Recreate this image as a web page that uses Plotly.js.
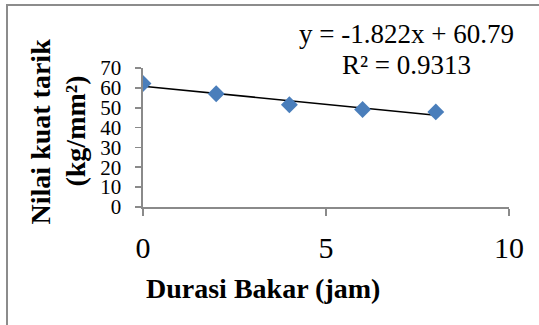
<!DOCTYPE html>
<html>
<head>
<meta charset="utf-8">
<script src="https://cdn.plot.ly/plotly-3.0.1.min.js"></script>
<style>
html,body{margin:0;padding:0;background:#fff;}
#wrap{position:relative;width:539px;height:325px;overflow:hidden;}
#chart{position:absolute;left:0;top:0;width:539px;height:325px;}
#frame{position:absolute;left:6px;top:4px;width:540px;height:330px;border-top:2px solid #8c8c8c;border-left:2px solid #8c8c8c;pointer-events:none;}
</style>
</head>
<body>
<div id="wrap"><div id="chart"></div><div id="frame"></div></div>
<script>
// Data
const durasi = [0, 2, 4, 6, 8];
const kuatTarik = [62.2, 57.0, 51.5, 49.1, 47.9];
const equationText = "y = -1.822x + 60.79";
const r2Text = "R² = 0.9313";
const xTitle = "Durasi Bakar (jam)";
const yTitleLine1 = "Nilai kuat tarik";
const yTitleLine2 = "(kg/mm²)";
const xTicks = [0, 5, 10];
const yTicks = [0, 10, 20, 30, 40, 50, 60, 70];

// Least-squares linear trendline computed from the data
const n = durasi.length;
const mx = durasi.reduce((a,b)=>a+b,0)/n;
const my = kuatTarik.reduce((a,b)=>a+b,0)/n;
let sxy = 0, sxx = 0;
for (let i=0;i<n;i++){ sxy += (durasi[i]-mx)*(kuatTarik[i]-my); sxx += (durasi[i]-mx)**2; }
const slope = sxy/sxx, intercept = my - slope*mx;
const trendX = [Math.min(...durasi), Math.max(...durasi)];
const trendY = trendX.map(x => intercept + slope*x);

const font = "Liberation Serif";
const axisGray = '#8a8a8a';

const traces = [
  {x: trendX, y: trendY, mode: 'lines', line: {color: '#000000', width: 1.6}, hoverinfo: 'skip'},
  {x: durasi, y: kuatTarik, mode: 'markers', marker: {symbol: 'diamond', size: 13, color: '#4A7EBB'}}
];

const layout = {
  width: 539, height: 325,
  margin: {l: 143, r: 30, t: 68, b: 118},
  paper_bgcolor: '#ffffff', plot_bgcolor: '#ffffff',
  showlegend: false,
  font: {family: font, color: '#000000'},
  xaxis: {
    range: [0, 10], tickvals: xTicks, ticktext: xTicks.map(String),
    showgrid: false, zeroline: false, showline: true, linecolor: axisGray, linewidth: 1.6,
    ticks: 'outside', ticklen: 7, tickcolor: axisGray, tickwidth: 1.6,
    tickfont: {family: font, size: 30, color: '#000'}, ticklabelstandoff: 6
  },
  yaxis: {
    range: [0, 70], tickvals: yTicks, ticktext: yTicks.map(String),
    showgrid: false, zeroline: false, showline: true, linecolor: axisGray, linewidth: 1.6,
    ticks: 'outside', ticklen: 6, tickcolor: axisGray, tickwidth: 1.6,
    tickfont: {family: font, size: 21, color: '#000'}, ticklabelstandoff: 10
  },
  annotations: [
    {xref: 'paper', yref: 'paper', x: 0.72, y: 1.248, xanchor: 'center', yanchor: 'middle',
     text: equationText, showarrow: false, font: {family: font, size: 27, color: '#000'}},
    {xref: 'paper', yref: 'paper', x: 0.72, y: 1.018, xanchor: 'center', yanchor: 'middle',
     text: r2Text, showarrow: false, font: {family: font, size: 27, color: '#000'}},
    {xref: 'paper', yref: 'paper', x: 0.328, y: -0.583, xanchor: 'center', yanchor: 'middle',
     text: '<b>' + xTitle + '</b>', showarrow: false, font: {family: font, size: 28, color: '#000'}},
    {xref: 'paper', yref: 'paper', x: -0.279, y: 0.543, xanchor: 'center', yanchor: 'middle', textangle: -90,
     text: '<b>' + yTitleLine1 + '</b>', showarrow: false, font: {family: font, size: 28, color: '#000'}},
    {xref: 'paper', yref: 'paper', x: -0.183, y: 0.543, xanchor: 'center', yanchor: 'middle', textangle: -90,
     text: '<b>' + yTitleLine2 + '</b>', showarrow: false, font: {family: font, size: 28, color: '#000'}}
  ]
};

Plotly.newPlot('chart', traces, layout, {displayModeBar: false, staticPlot: true});
</script>
</body>
</html>
